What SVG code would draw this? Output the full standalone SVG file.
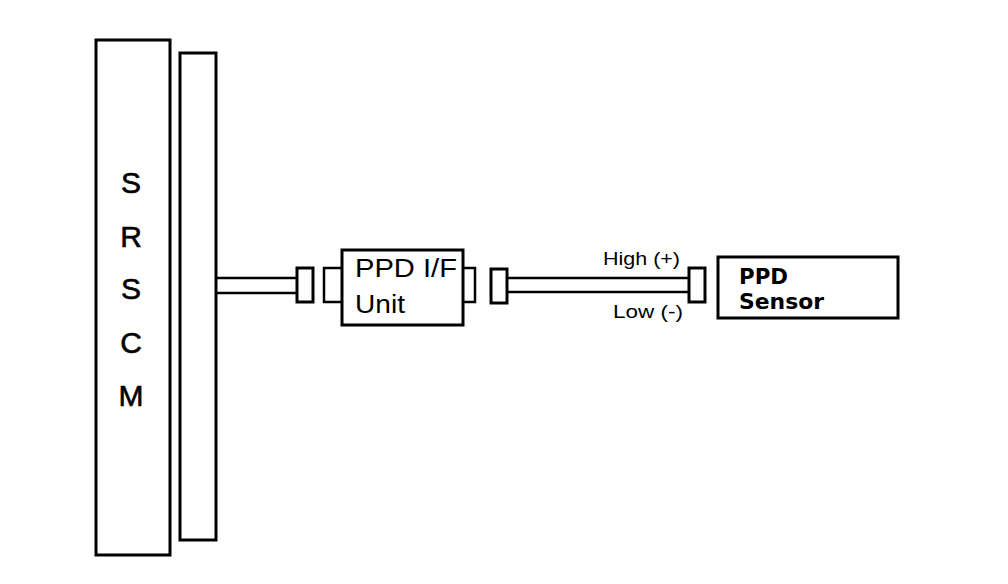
<svg xmlns="http://www.w3.org/2000/svg" width="1008" height="584" viewBox="0 0 1008 584">
<style>
.b{fill:#fff;stroke:#000;stroke-width:3}
.w{fill:none;stroke:#000;stroke-width:2.5}
.t{font-family:"Liberation Sans",Arial,sans-serif;fill:#000}
.k{font-family:"DejaVu Sans","Liberation Sans",Arial,sans-serif;font-weight:bold;fill:#000}
</style>
<rect width="1008" height="584" fill="#fff"/>
<g id="srscm">
<rect class="b" x="96" y="40" width="74" height="515"/>
<g class="t" font-size="30" text-anchor="middle" stroke="#000" stroke-width="0.6">
<text x="131" y="193">S</text>
<text x="131" y="247">R</text>
<text x="131" y="299">S</text>
<text x="131" y="353">C</text>
<text x="131" y="406">M</text>
</g>
</g>
<g id="connector-panel">
<rect class="b" x="180" y="53" width="36" height="487"/>
</g>
<g id="connectors">
<line class="w" x1="216" y1="278" x2="297" y2="278"/>
<line class="w" x1="216" y1="293" x2="297" y2="293"/>
<rect class="b" x="297" y="268" width="16" height="34"/>
<polyline class="w" points="342,268 324,268 324,302 342,302" stroke-width="3"/>
<polyline class="w" points="463,268 475,268 475,302 463,302" stroke-width="3"/>
<rect class="b" x="491" y="269" width="16" height="34"/>
<line class="w" x1="507" y1="278" x2="689" y2="278"/>
<line class="w" x1="507" y1="292" x2="689" y2="292"/>
<rect class="b" x="689" y="268" width="16" height="34"/>
<text class="t" x="603" y="265" font-size="19" textLength="77" lengthAdjust="spacingAndGlyphs">High (+)</text>
<text class="t" x="613" y="318" font-size="19" textLength="70" lengthAdjust="spacingAndGlyphs">Low (-)</text>
</g>
<g id="ppd-if-unit">
<rect class="b" x="342" y="250" width="121" height="75"/>
<text class="t" x="355" y="277" font-size="25" textLength="102" lengthAdjust="spacingAndGlyphs">PPD I/F</text>
<text class="t" x="355" y="313" font-size="25" textLength="50" lengthAdjust="spacingAndGlyphs">Unit</text>
</g>
<g id="ppd-sensor">
<rect class="b" x="718" y="257" width="180" height="61"/>
<text class="k" x="739" y="284" font-size="21" textLength="49" lengthAdjust="spacingAndGlyphs">PPD</text>
<text class="k" x="739" y="309" font-size="21" textLength="85" lengthAdjust="spacingAndGlyphs">Sensor</text>
</g>
</svg>
